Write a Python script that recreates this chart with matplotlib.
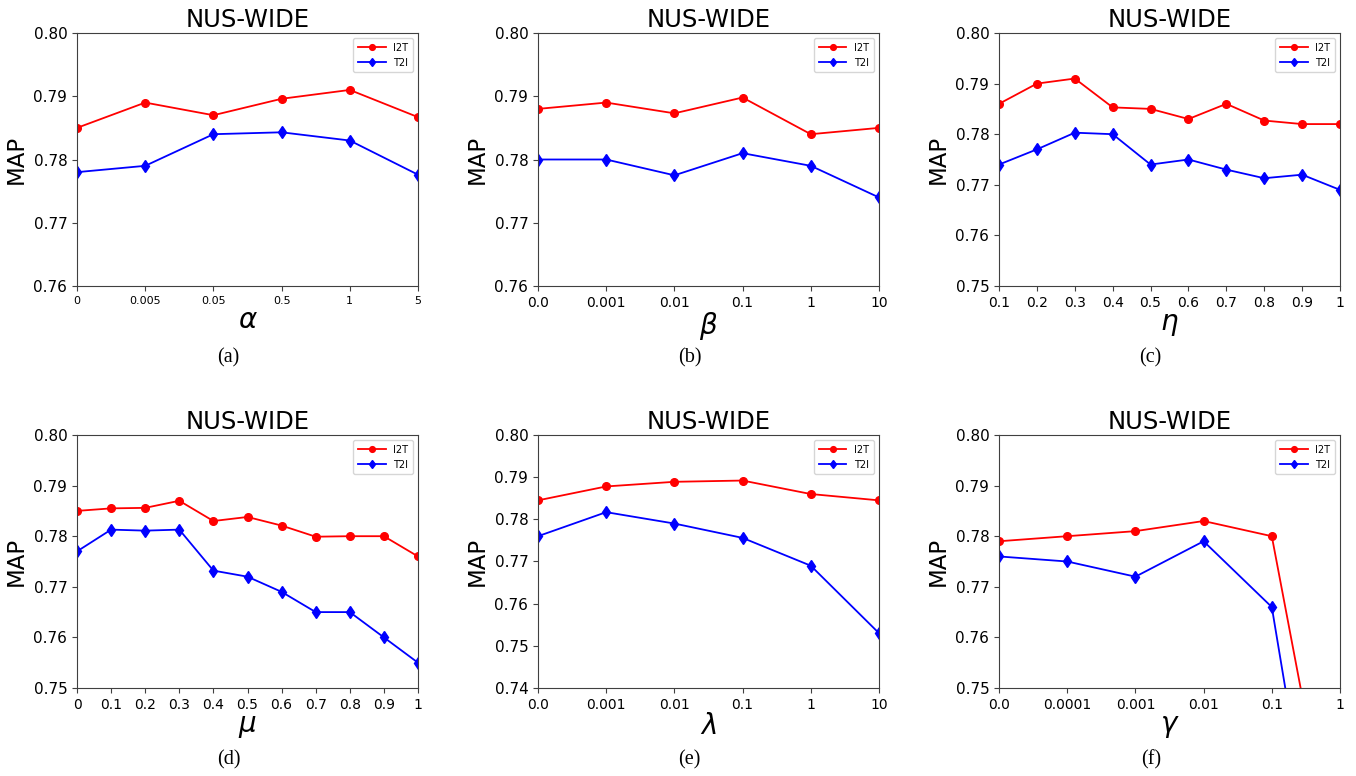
import matplotlib
matplotlib.use("Agg")
import matplotlib.pyplot as plt

# parameter sweeps on NUS-WIDE, I2T / T2I MAP
alpha_ticks = ["0", "0.005", "0.05", "0.5", "1", "5"]
alpha_i2t = [0.785, 0.789, 0.787, 0.7896, 0.791, 0.7867]
alpha_t2i = [0.778, 0.779, 0.784, 0.7843, 0.783, 0.7776]

beta_ticks = ["0.0", "0.001", "0.01", "0.1", "1", "10"]
beta_i2t = [0.788, 0.789, 0.7873, 0.7898, 0.784, 0.785]
beta_t2i = [0.780, 0.780, 0.7775, 0.781, 0.779, 0.774]

eta_ticks = ["0.1", "0.2", "0.3", "0.4", "0.5", "0.6", "0.7", "0.8", "0.9", "1"]
eta_i2t = [0.786, 0.790, 0.791, 0.7853, 0.785, 0.783, 0.786, 0.7827, 0.782, 0.782]
eta_t2i = [0.774, 0.777, 0.7803, 0.780, 0.774, 0.775, 0.773, 0.7713, 0.772, 0.769]

mu_ticks = ["0", "0.1", "0.2", "0.3", "0.4", "0.5", "0.6", "0.7", "0.8", "0.9", "1"]
mu_i2t = [0.785, 0.7855, 0.7856, 0.787, 0.783, 0.7838, 0.7821, 0.7799, 0.780, 0.780, 0.776]
mu_t2i = [0.777, 0.7813, 0.7811, 0.7813, 0.7732, 0.772, 0.769, 0.765, 0.765, 0.760, 0.755]

lambda_ticks = ["0.0", "0.001", "0.01", "0.1", "1", "10"]
lambda_i2t = [0.7845, 0.7878, 0.7889, 0.7892, 0.786, 0.7845]
lambda_t2i = [0.776, 0.7817, 0.779, 0.7756, 0.769, 0.753]

gamma_ticks = ["0.0", "0.0001", "0.001", "0.01", "0.1", "1"]
gamma_i2t = [0.779, 0.780, 0.781, 0.783, 0.780, 0.709]
gamma_t2i = [0.776, 0.775, 0.772, 0.779, 0.766, 0.685]

W, H = 1356, 776


def draw_panel(rect, ticks, i2t, t2i, xlabel, ylim, caption, tick_size=10):
    ax = fig.add_axes(rect)
    xs = range(len(ticks))
    ax.plot(xs, i2t, color="red", marker="o", markersize=5.5, linewidth=1.3, label="I2T")
    ax.plot(xs, t2i, color="blue", marker="d", markersize=6, linewidth=1.3, label="T2I")
    ax.set_xlim(0, len(ticks) - 1)
    ax.set_ylim(*ylim)
    ax.set_xticks(list(xs))
    ax.set_xticklabels(ticks, fontsize=tick_size)
    yt = [round(ylim[0] + 0.01 * k, 2) for k in range(int(round((ylim[1] - ylim[0]) / 0.01)) + 1)]
    ax.set_yticks(yt)
    ax.set_yticklabels(["%.2f" % v for v in yt], fontsize=11)
    for s in ax.spines.values():
        s.set_color("#404040")
    ax.tick_params(colors="#404040", labelcolor="black")
    ax.set_title("NUS-WIDE", fontsize=17.5, pad=4)
    ax.set_ylabel("MAP", fontsize=16.5, labelpad=4)
    ax.set_xlabel(xlabel, fontsize=20, labelpad=0)
    ax.legend(loc="upper right", fontsize=7, handlelength=2.8, borderpad=0.5,
              markerscale=0.75)
    # sub-figure caption under the axes
    ax.text(0.445, -0.285, caption, transform=ax.transAxes, ha="center", va="center",
            fontsize=14.5, family="Liberation Serif")
    return ax


fig = plt.figure(figsize=(W / 100, H / 100), dpi=100)

lefts = [77, 538, 999]
aw, ah = 341, 253
top_row = 1 - 286 / H
bot_row = 1 - 688 / H

draw_panel([lefts[0] / W, top_row, aw / W, ah / H], alpha_ticks, alpha_i2t, alpha_t2i,
           r"$\alpha$", (0.76, 0.80), "(a)", tick_size=8)
draw_panel([lefts[1] / W, top_row, aw / W, ah / H], beta_ticks, beta_i2t, beta_t2i,
           r"$\beta$", (0.76, 0.80), "(b)")
draw_panel([lefts[2] / W, top_row, aw / W, ah / H], eta_ticks, eta_i2t, eta_t2i,
           r"$\eta$", (0.75, 0.80), "(c)")
draw_panel([lefts[0] / W, bot_row, aw / W, ah / H], mu_ticks, mu_i2t, mu_t2i,
           r"$\mu$", (0.75, 0.80), "(d)")
draw_panel([lefts[1] / W, bot_row, aw / W, ah / H], lambda_ticks, lambda_i2t, lambda_t2i,
           r"$\lambda$", (0.74, 0.80), "(e)")
draw_panel([lefts[2] / W, bot_row, aw / W, ah / H], gamma_ticks, gamma_i2t, gamma_t2i,
           r"$\gamma$", (0.75, 0.80), "(f)")

plt.savefig("out.png", dpi=100)
